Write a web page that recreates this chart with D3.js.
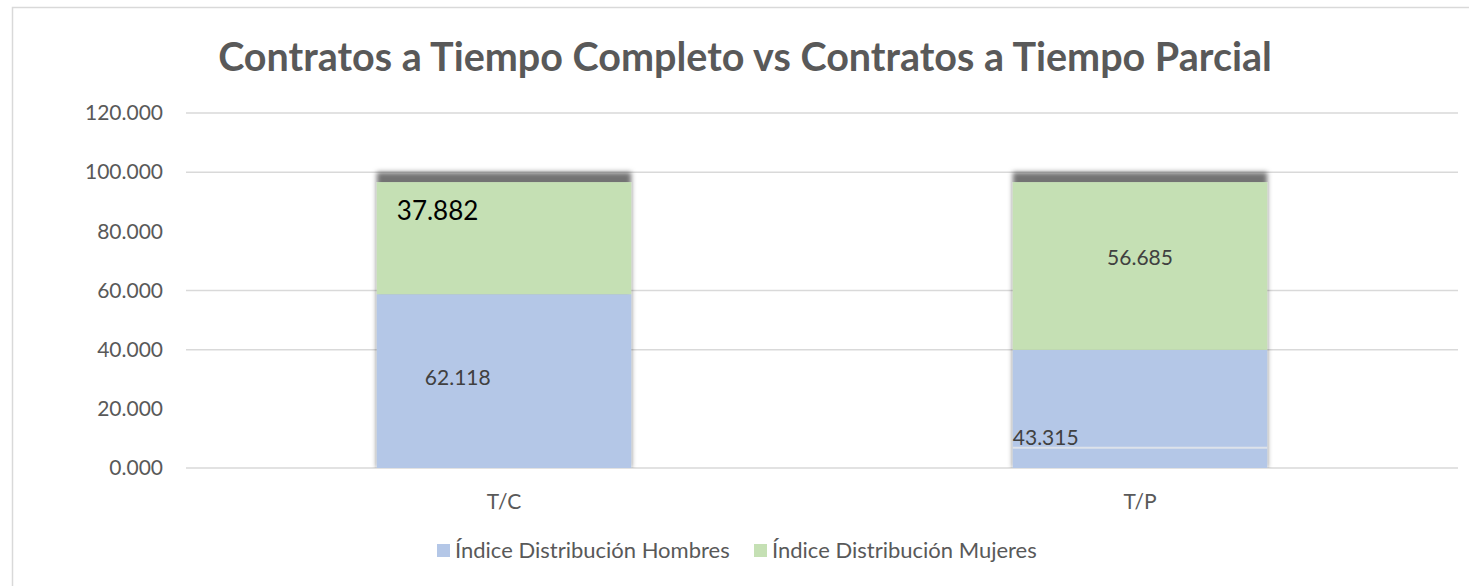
<!DOCTYPE html>
<html>
<head>
<meta charset="utf-8">
<script src="https://cdn.jsdelivr.net/npm/d3@7"></script>
<style>
  body { margin: 0; background: #fff; }
  svg { display: block; font-family: Lato, "Open Sans", sans-serif; }
</style>
</head>
<body>
<div id="chart"></div>
<script>
// Chart data
const categories = ["T/C", "T/P"];
const series = ["Índice Distribución Hombres", "Índice Distribución Mujeres"];
const hombres = [62.118, 43.315];
const mujeres = [37.882, 56.685];
const yTicks = [0, 20, 40, 60, 80, 100, 120];
const gridValues = [0, 40, 60, 100, 120]; // only these show in the picture

const colors = ["#b4c7e7", "#c5e0b4"];

const width = 1469;
const height = 586;

const svg = d3.select("#chart")
    .append("svg")
    .attr("width", width)
    .attr("height", height);

// Drop shadow for the bars (Excel style, cast upwards)
const shadowShift = 10;
const defs = svg.append("defs");
defs.append("filter")
    .attr("id", "shadow")
    .attr("x", "-10%").attr("y", "-10%")
    .attr("width", "120%").attr("height", "120%")
    .append("feDropShadow")
    .attr("dx", 0)
    .attr("dy", -shadowShift)
    .attr("stdDeviation", 2.5)
    .attr("flood-color", "#000")
    .attr("flood-opacity", 0.55);

// Chart frame
svg.append("rect")
    .attr("x", 12.5).attr("y", 7.5)
    .attr("width", width).attr("height", height)
    .attr("fill", "none")
    .attr("stroke", "#d9d9d9")
    .attr("stroke-width", 1.5);

// Title
svg.append("text")
    .attr("x", 745)
    .attr("y", 71)
    .attr("text-anchor", "middle")
    .attr("fill", "#595959")
    .style("font-size", "39.5px")
    .style("font-weight", "bold")
    .text("Contratos a Tiempo Completo vs Contratos a Tiempo Parcial");

// Scales
const x = d3.scaleBand()
    .domain(categories)
    .range([186, 1458])
    .paddingInner(0.6)
    .paddingOuter(0.3);

const y = d3.scaleLinear()
    .domain([0, 120])
    .range([468, 113]);

// Gridlines
svg.append("g")
    .selectAll("line")
    .data(gridValues)
    .enter()
    .append("line")
    .attr("x1", 186)
    .attr("x2", 1458)
    .attr("y1", d => y(d))
    .attr("y2", d => y(d))
    .attr("stroke", "#d9d9d9")
    .attr("stroke-width", 1.5);

// Y axis labels
const yAxis = svg.append("g")
    .attr("transform", "translate(163,0)")
    .call(d3.axisLeft(y).tickValues(yTicks).tickFormat(d3.format(".3f")).tickSize(0).tickPadding(0));
yAxis.select(".domain").remove();
yAxis.selectAll("text")
    .attr("fill", "#595959")
    .style("font-size", "21px")
    .style("font-family", "Lato, sans-serif");

// X axis labels
const xAxis = svg.append("g")
    .attr("transform", `translate(0,${y(0)})`)
    .call(d3.axisBottom(x).tickSize(0).tickPadding(26));
xAxis.select(".domain").remove();
xAxis.selectAll("text")
    .attr("fill", "#595959")
    .style("font-size", "21px")
    .style("font-family", "Lato, sans-serif");

// Stack the series
const rows = categories.map((c, i) => ({ category: c, hombres: hombres[i], mujeres: mujeres[i] }));
const stacked = d3.stack().keys(["hombres", "mujeres"])(rows);

// Bars (clipped at the baseline)
defs.append("clipPath")
    .attr("id", "plotClip")
    .append("rect")
    .attr("x", 0).attr("y", 0)
    .attr("width", width).attr("height", y(0));

const barsGroup = svg.append("g")
    .attr("clip-path", "url(#plotClip)")
    .append("g")
    .attr("transform", `translate(0,${shadowShift})`)
    .attr("filter", "url(#shadow)");

barsGroup.selectAll("g.layer")
    .data(stacked)
    .enter()
    .append("g")
    .attr("class", "layer")
    .attr("fill", (d, i) => colors[i])
    .selectAll("rect")
    .data(d => d)
    .enter()
    .append("rect")
    .attr("x", d => x(d.data.category))
    .attr("y", d => y(d[1]))
    .attr("width", x.bandwidth())
    .attr("height", d => y(d[0]) - y(d[1]));

// Data labels (placed as in the original chart)
const labelPlacement = {
    "hombres-T/C": { anchor: "middle", dx: 81, dy: 91, size: 21, color: "#404040" },
    "hombres-T/P": { anchor: "start", dx: 0, dy: 95, size: 21, color: "#404040", underline: true },
    "mujeres-T/C": { anchor: "start", dx: 20, dy: 38, size: 26, color: "#000" },
    "mujeres-T/P": { anchor: "middle", dx: x.bandwidth() / 2, dy: 83, size: 21, color: "#404040" }
};

const labelGroup = svg.append("g");
stacked.forEach(layer => {
    layer.forEach(seg => {
        const p = labelPlacement[layer.key + "-" + seg.data.category];
        const top = y(seg[1]) + shadowShift;
        if (p.underline) {
            labelGroup.append("line")
                .attr("x1", x(seg.data.category))
                .attr("x2", x(seg.data.category) + x.bandwidth())
                .attr("y1", top + p.dy + 3)
                .attr("y2", top + p.dy + 3)
                .attr("stroke", "#dde2ea")
                .attr("stroke-width", 2);
        }
        labelGroup.append("text")
            .attr("x", x(seg.data.category) + p.dx)
            .attr("y", top + p.dy)
            .attr("text-anchor", p.anchor)
            .attr("fill", p.color)
            .style("font-size", p.size + "px")
            .text(d3.format(".3f")(seg.data[layer.key]));
    });
});

// Legend
const legendX = [437, 754];
const legend = svg.append("g")
    .selectAll("g")
    .data(series)
    .enter()
    .append("g")
    .attr("transform", (d, i) => `translate(${legendX[i]},544)`);

legend.append("rect")
    .attr("width", 13)
    .attr("height", 13)
    .attr("fill", (d, i) => colors[i]);

legend.append("text")
    .attr("x", 18)
    .attr("y", 14)
    .attr("fill", "#595959")
    .style("font-size", "22px")
    .text(d => d);
</script>
</body>
</html>
